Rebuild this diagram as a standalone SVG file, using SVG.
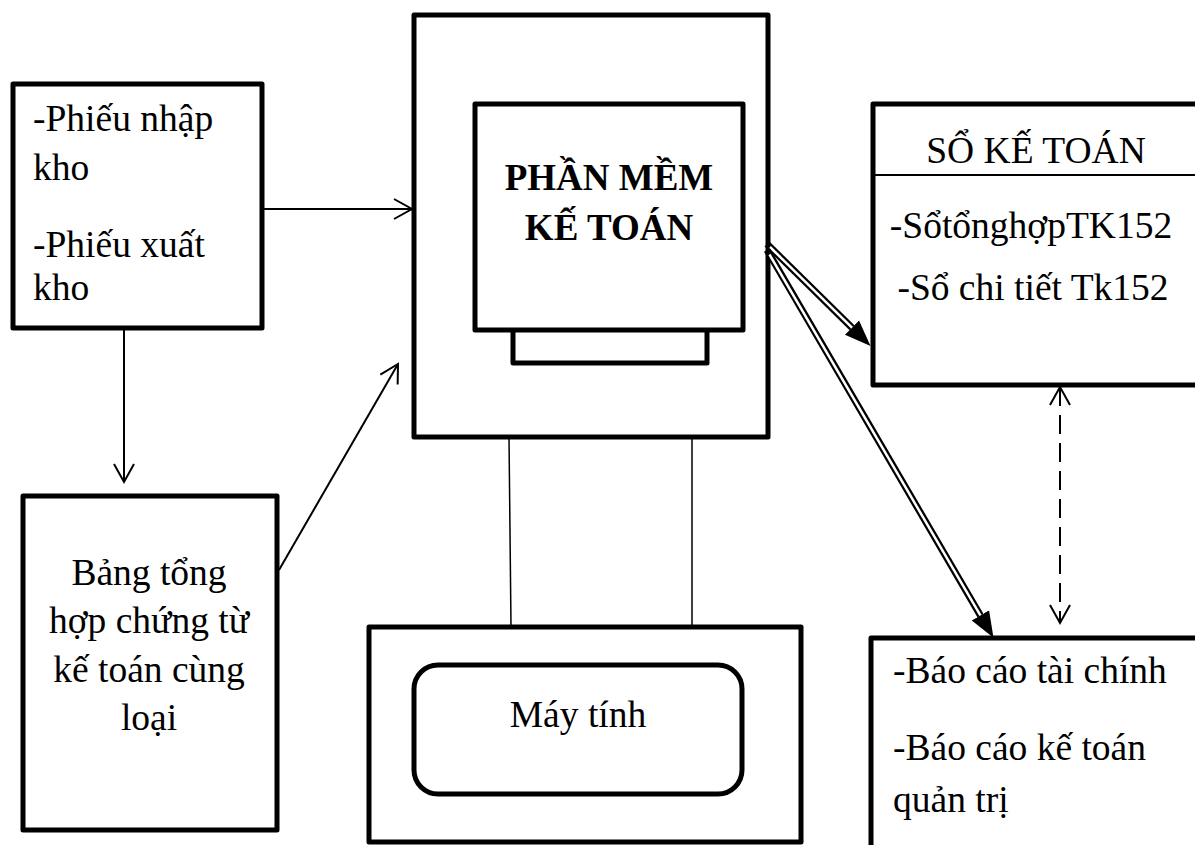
<svg xmlns="http://www.w3.org/2000/svg" width="1195" height="845" viewBox="0 0 1195 845">
<style>
.box{fill:#fff;stroke:#000;stroke-width:5;stroke-linejoin:round}
.t{font-family:"Liberation Serif","Times New Roman",serif;font-size:37.5px;fill:#000}
.b{font-weight:bold;font-size:37px}
.thin{stroke:#000;stroke-width:1.5;fill:none}
.arr{stroke:#000;stroke-width:2;fill:none;marker-end:url(#open)}
</style>
<defs>
<marker id="open" markerUnits="userSpaceOnUse" markerWidth="24" markerHeight="24" viewBox="0 0 24 24" refX="19" refY="11" orient="auto-start-reverse">
<path d="M1,1 L19,11 L1,21" fill="none" stroke="#000" stroke-width="2"/>
</marker>
<marker id="fill" markerUnits="userSpaceOnUse" markerWidth="28" markerHeight="24" viewBox="0 0 28 24" refX="0" refY="11" orient="auto">
<path d="M0,1 L26,11 L0,21 z" fill="#000"/>
</marker>
</defs>
<rect width="1195" height="845" fill="#fff"/>

<g id="phieu">
<rect class="box" x="13" y="84" width="249" height="244"/>
<text class="t" x="33" y="131">-Phiếu nhập</text>
<text class="t" x="33" y="180">kho</text>
<text class="t" x="33" y="257">-Phiếu xuất</text>
<text class="t" x="33" y="300">kho</text>
</g>

<g id="bang">
<rect class="box" x="23" y="496" width="254" height="334"/>
<text class="t" text-anchor="middle" x="149" y="585">Bảng tổng</text>
<text class="t" text-anchor="middle" x="149" y="633">hợp chứng từ</text>
<text class="t" text-anchor="middle" x="149" y="682">kế toán cùng</text>
<text class="t" text-anchor="middle" x="149" y="730">loại</text>
</g>

<g id="phanmem">
<rect class="box" x="414" y="15" width="354" height="422"/>
<rect class="box" x="513" y="328" width="194" height="35"/>
<rect class="box" x="475" y="104" width="268" height="226"/>
<text class="t b" text-anchor="middle" x="609" y="190">PHẦN MỀM</text>
<text class="t b" text-anchor="middle" x="609" y="240">KẾ TOÁN</text>
</g>

<g id="maytinh">
<rect class="box" x="369" y="627" width="432" height="215"/>
<rect class="box" x="414" y="665" width="328" height="129" rx="24" ry="24"/>
<text class="t" text-anchor="middle" x="578" y="727">Máy tính</text>
</g>

<g id="sokt">
<rect class="box" x="873" y="104" width="340" height="281"/>
<line x1="873" y1="175" x2="1195" y2="175" stroke="#000" stroke-width="2"/>
<text class="t" text-anchor="middle" x="1036" y="163">SỔ KẾ TOÁN</text>
<text class="t" text-anchor="middle" x="1031" y="238">-SổtổnghợpTK152</text>
<text class="t" text-anchor="middle" x="1033" y="300">-Sổ chi tiết Tk152</text>
</g>

<g id="baocao">
<rect class="box" x="871" y="638" width="340" height="220"/>
<text class="t" x="893" y="683">-Báo cáo tài chính</text>
<text class="t" x="893" y="760">-Báo cáo kế toán</text>
<text class="t" x="893" y="812">quản trị</text>
</g>

<g id="connectors">
<line class="arr" x1="262" y1="209" x2="412" y2="209"/>
<line class="arr" x1="124" y1="330" x2="124" y2="482"/>
<line class="arr" x1="279" y1="570" x2="398" y2="364"/>
<line class="thin" x1="509" y1="437" x2="511" y2="627"/>
<line class="thin" x1="692" y1="437" x2="692" y2="627"/>
<line x1="1060" y1="387" x2="1060" y2="623" stroke="#000" stroke-width="2" stroke-dasharray="19 9" marker-start="url(#open)" marker-end="url(#open)"/>
<line x1="767" y1="244" x2="852" y2="327.7" stroke="#000" stroke-width="7" marker-end="url(#fill)"/>
<line x1="770" y1="247" x2="852" y2="327.7" stroke="#fff" stroke-width="2.5"/>
<line x1="767" y1="250" x2="980.4" y2="615.4" stroke="#000" stroke-width="7" marker-end="url(#fill)"/>
<line x1="769.5" y1="254.5" x2="980.4" y2="615.4" stroke="#fff" stroke-width="2.5"/>
</g>
</svg>
